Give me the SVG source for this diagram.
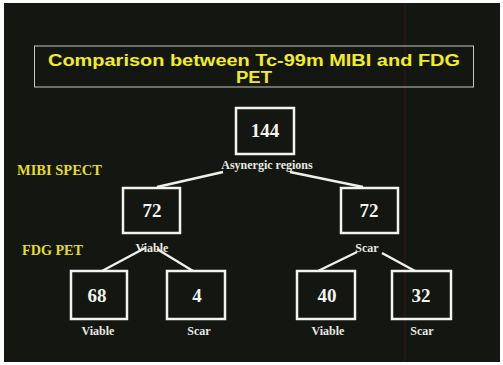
<svg xmlns="http://www.w3.org/2000/svg" width="503" height="365" viewBox="0 0 503 365">
<style>
.box{fill:none;stroke:#f4f4ee;stroke-width:2.5}
.num{font-family:"Liberation Serif",serif;font-weight:bold;font-size:19px;fill:#f4f4ee;text-anchor:middle}
.lbl{font-family:"Liberation Serif",serif;font-weight:bold;font-size:12px;fill:#e8e8e2;text-anchor:middle}
.side{font-family:"Liberation Serif",serif;font-weight:bold;font-size:14.5px;fill:#e6dc1e}
.edge{stroke:#f0f0ea;stroke-width:2.5;fill:none}
.ttl{font-family:"Liberation Sans",Arial,sans-serif;font-weight:bold;font-size:16px;fill:#f2ee1e;text-anchor:middle}
</style>
<rect x="0" y="0" width="503" height="365" fill="#ffffff"/>
<rect x="4" y="3" width="496" height="359" fill="#141611"/>
<line x1="405" y1="3" x2="405" y2="362" stroke="#3a1a14" stroke-width="1.5" opacity="0.7"/>
<g id="title">
<rect x="34.5" y="46" width="439" height="41" fill="none" stroke="#c8c8b8" stroke-width="1"/>
<text class="ttl" x="254" y="66" textLength="412" lengthAdjust="spacingAndGlyphs">Comparison between Tc-99m MIBI and FDG</text>
<text class="ttl" x="254" y="83" textLength="36" lengthAdjust="spacingAndGlyphs">PET</text>
</g>
<text class="side" x="17" y="175">MIBI SPECT</text>
<text class="side" x="22" y="255" textLength="61" lengthAdjust="spacingAndGlyphs">FDG PET</text>
<g id="connectors">
<line class="edge" x1="223" y1="172" x2="157" y2="187"/>
<line class="edge" x1="290" y1="172" x2="363" y2="187"/>
<line class="edge" x1="145" y1="248" x2="102" y2="271"/>
<line class="edge" x1="157" y1="249" x2="193" y2="271"/>
<line class="edge" x1="357" y1="252" x2="318" y2="271"/>
<line class="edge" x1="382" y1="253" x2="415" y2="271"/>
</g>
<g id="n144">
<rect class="box" x="236" y="108" width="58" height="46"/>
<text class="num" x="265" y="137">144</text>
<text class="lbl" x="267" y="169">Asynergic regions</text>
</g>
<g id="n72a">
<rect class="box" x="123" y="188" width="57" height="45"/>
<text class="num" x="152" y="217">72</text>
<text class="lbl" x="152" y="252">Viable</text>
</g>
<g id="n72b">
<rect class="box" x="341" y="188" width="57" height="45"/>
<text class="num" x="369" y="217">72</text>
<text class="lbl" x="367" y="252">Scar</text>
</g>
<g id="n68">
<rect class="box" x="71" y="271" width="56" height="48"/>
<text class="num" x="97" y="302">68</text>
<text class="lbl" x="98" y="335">Viable</text>
</g>
<g id="n4">
<rect class="box" x="167" y="271" width="58" height="48"/>
<text class="num" x="197" y="302">4</text>
<text class="lbl" x="199" y="335">Scar</text>
</g>
<g id="n40">
<rect class="box" x="297" y="271" width="58" height="48"/>
<text class="num" x="327" y="302">40</text>
<text class="lbl" x="328" y="335">Viable</text>
</g>
<g id="n32">
<rect class="box" x="392" y="271" width="59" height="48"/>
<text class="num" x="421" y="302">32</text>
<text class="lbl" x="422" y="335">Scar</text>
</g>
</svg>
